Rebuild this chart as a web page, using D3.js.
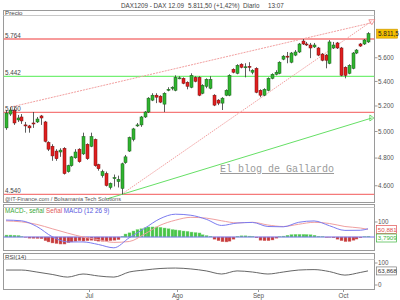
<!DOCTYPE html>
<html><head><meta charset="utf-8">
<script src="https://cdn.jsdelivr.net/npm/d3@7"></script>
<style>
body{margin:0;background:#fff}
svg{display:block}
text{font-family:"Liberation Sans",Arial,sans-serif}
text.mono{font-family:"Liberation Mono","DejaVu Sans Mono",monospace}
</style>
</head><body>
<svg id="c" width="400" height="300"></svg>
<script>
// ---------- DATA ----------
const title = ["DAX1209 - DAX 12.09", "5.811,50 (+1,42%)", "Diario", "13:07"];
const open  = [5028,5136,5168,5090,5113,5051,5043,5066,5074,5121,5074,4917,4888,4852,4845,4873,4701,4744,4802,4866,4831,4903,4888,4939,4751,4672,4687,4588,4652,4630,4581,4766,4852,4939,5043,5051,5113,5152,5247,5287,5279,5215,5327,5344,5327,5426,5426,5393,5352,5434,5434,5303,5360,5344,5287,5247,5223,5287,5287,5502,5468,5545,5519,5527,5477,5510,5327,5287,5327,5426,5460,5468,5588,5614,5562,5623,5650,5746,5720,5711,5694,5685,5632,5623,5553,5685,5729,5685,5519,5468,5510,5641,5720,5720,5738];
const high  = [5168,5190,5183,5129,5136,5074,5051,5152,5113,5129,5082,4925,4903,4866,4873,4881,4751,4816,4866,4873,4991,4910,4991,4946,4758,4715,4701,4623,4680,4672,4766,4823,4961,5028,5066,5121,5160,5271,5303,5303,5287,5311,5352,5360,5451,5443,5434,5401,5468,5443,5443,5377,5426,5443,5295,5255,5271,5335,5460,5510,5545,5553,5553,5562,5502,5519,5335,5344,5434,5468,5494,5570,5623,5650,5650,5667,5729,5764,5738,5729,5729,5694,5641,5632,5755,5738,5738,5694,5527,5545,5650,5676,5729,5764,5825];
const low   = [5013,5121,5051,5074,5059,4991,4991,5028,5066,5051,4917,4852,4780,4780,4809,4680,4694,4737,4795,4766,4823,4787,4881,4737,4708,4658,4595,4574,4595,4588,4540,4758,4845,4925,5036,5036,5105,5144,5239,5223,5223,5152,5319,5327,5319,5418,5377,5335,5344,5393,5279,5295,5344,5335,5199,5207,5168,5279,5279,5468,5460,5510,5434,5485,5460,5303,5271,5279,5319,5418,5451,5460,5579,5553,5553,5614,5641,5711,5702,5597,5685,5614,5570,5510,5545,5676,5676,5443,5426,5460,5502,5632,5694,5711,5729];
const close = [5144,5168,5066,5105,5082,5043,5028,5059,5097,5105,4925,4866,4816,4795,4859,4687,4744,4809,4845,4773,4961,4795,4961,4744,4722,4701,4602,4616,4658,4645,4758,4809,4954,5020,5051,5113,5152,5263,5287,5271,5231,5303,5335,5352,5434,5430,5385,5360,5451,5401,5287,5368,5418,5418,5207,5223,5263,5327,5451,5477,5536,5519,5523,5519,5494,5311,5287,5335,5426,5460,5477,5562,5614,5610,5641,5650,5720,5720,5716,5685,5711,5623,5579,5579,5738,5711,5685,5451,5451,5536,5641,5667,5702,5755,5811.5];
const lastLabel = "5.811,5";

const levels = [5764, 5442, 5150, 4540];
const levelLabels = ["5.764", "5.442", "5.150", "4.540"];
const priceTicks = [4600, 4800, 5000, 5200, 5400, 5600];
const priceTickLabels = ["4.600", "4.800", "5.000", "5.200", "5.400", "5.600"];

// trend lines: [candle index, price]
const resistanceLine = [[1, 5190], [95, 5910]];
const supportLine    = [[30, 4540], [95, 5925]];
const greenTrend     = [[26, 4506], [95, 5105]];

const months = ["Jul", "Ago", "Sep", "Oct"];
const monthIdx = [22, 45, 66, 88];

// indicators sampled at candle indices
const indIdx = [0,4,8,12,16,20,24,28,32,36,40,44,48,52,56,60,64,68,72,76,80,84,88,92,94];
const macd   = [113,108,70,2,-33,-33,-50,-72,-5,58,122,152,145,118,77,93,97,70,68,98,107,75,44,45,55];
const signal = [107,101,84,55,26,0,-18,-36,-30,20,78,112,131,126,108,94,98,80,70,85,98,90,70,60,51];
const hist = [13,13,12,10,3,-2,-8,-9,-10,-12,
  -25,-33,-40,-44,-47,-47,-38,-33,-28,-25,
  -27,-25,-22,-25,-28,-28,-27,-25,-22,-18,
  5,20,28,40,50,55,62,67,67,67,
  65,60,55,50,47,45,40,38,33,30,
  27,15,10,5,-15,-25,-32,-33,-28,-15,
  5,8,8,6,4,-5,-22,-25,-25,-20,
  -8,2,6,12,16,18,18,18,17,15,
  12,5,3,-3,-2,-5,-15,-25,-31,-30,
  -22,-14,-5,2,4];
const rsi = [68,68,59,48,36,50,41,36,59,68,75,77,73,64,50,64,59,50,59,68,70,61,45,57,64];
const macdLabels = ["100"];
const macdTags = ["50,881", "3,7909"];
const rsiTicks = [0, 100];
const rsiTag = "63,868";

// ---------- DRAW ----------
const svg = d3.select("#c");
const grey = "#9a9a9a", txt = "#555";
const L = 3.5, R = 374.5;

const x = d3.scaleLinear().domain([0, 94]).range([6, 368]);
const yP = d3.scaleLog().domain([4540, 5764]).range([194.3, 39]);
const yM = d3.scaleLinear().domain([-100, 100]).range([252, 222]);
const yR = d3.scaleLinear().domain([0, 100]).range([285, 263]);

// header
const hx = [121, 188, 243, 268];
title.forEach((t, k) => svg.append("text").attr("x", hx[k]).attr("y", 7.5)
  .attr("font-size", 6.3).attr("fill", "#444").text(t));

// panel frames
function panel(top, bottom, hdr) {
  svg.append("rect").attr("x", L).attr("y", top).attr("width", R - L).attr("height", bottom - top)
    .attr("fill", "#fff").attr("stroke", grey).attr("stroke-width", 1);
  svg.append("line").attr("x1", L).attr("x2", R).attr("y1", hdr).attr("y2", hdr)
    .attr("stroke", "#c8c8c8");
}
panel(10.5, 202.5, 15.5);
panel(204.5, 250.5, 207.5);
panel(253.5, 289.5, 259.5);

svg.append("text").attr("x", 5).attr("y", 14.5).attr("font-size", 6.2).attr("fill", "#444").text("Precio");

const defs = svg.append("defs");
defs.append("clipPath").attr("id", "cm").append("rect")
  .attr("x", L).attr("y", 15.5).attr("width", R - L).attr("height", 187);
const main = svg.append("g").attr("clip-path", "url(#cm)");

// level lines
const levelColor = ["#f57a7a", "#74f074", "#f57a7a", "#f57a7a"];
levels.forEach((lv, k) => {
  main.append("line").attr("x1", L).attr("x2", R).attr("y1", yP(lv)).attr("y2", yP(lv))
    .attr("stroke", levelColor[k]).attr("stroke-width", 1.3);
  svg.append("text").attr("x", 5).attr("y", yP(lv) - 1.2).attr("font-size", 6.3)
    .attr("fill", "#444").text(levelLabels[k]);
});

// trend lines
const tl = d3.line().x(d => x(d[0])).y(d => yP(d[1]));
main.append("path").attr("d", tl(resistanceLine)).attr("fill", "none")
  .attr("stroke", "#f2a0a0").attr("stroke-width", 1).attr("stroke-dasharray", "2,1");
main.append("path").attr("d", tl(supportLine)).attr("fill", "none")
  .attr("stroke", "#f2a0a0").attr("stroke-width", 1).attr("stroke-dasharray", "1.5,1");
main.append("path").attr("d", tl(greenTrend)).attr("fill", "none")
  .attr("stroke", "#66e066").attr("stroke-width", 1);
// end markers
{
  const ex = x(resistanceLine[1][0]), ey = yP(resistanceLine[1][1]);
  svg.append("path").attr("d", `M${ex-3},${ey-3}L${ex+3},${ey-3}L${ex},${ey+2}Z`)
    .attr("fill", "none").attr("stroke", "#f08080").attr("stroke-width", 0.8);
  const gx = x(greenTrend[1][0]), gy = yP(greenTrend[1][1]);
  svg.append("path").attr("d", `M${gx-2},${gy-3}L${gx+2},${gy}L${gx-2},${gy+3}Z`)
    .attr("fill", "none").attr("stroke", "#55d055").attr("stroke-width", 0.8);
}

// watermark
svg.append("text").attr("class", "mono").attr("x", 220).attr("y", 172)
  .attr("font-size", 10).attr("fill", "#9a9a9a").attr("text-decoration", "underline")
  .text("El blog de Gallardo");

// candles
const cg = main.append("g");
open.forEach((o, i) => {
  const c = close[i], up = c >= o;
  const cx = Math.round(x(i)) + 0.5;
  cg.append("line").attr("x1", cx).attr("x2", cx).attr("y1", yP(high[i])).attr("y2", yP(low[i]))
    .attr("stroke", "#333").attr("stroke-width", 0.8);
  const yt = yP(Math.max(o, c)), yb = yP(Math.min(o, c));
  cg.append("rect").attr("x", cx - 1.5).attr("y", yt).attr("width", 3).attr("height", Math.max(1, yb - yt))
    .attr("fill", up ? "#2fb52f" : "#e01e1e").attr("stroke", up ? "#1d5e1d" : "#7a1010").attr("stroke-width", 0.5);
});

svg.append("text").attr("x", 5).attr("y", 201).attr("font-size", 5.6).attr("fill", "#555")
  .text("@IT-Finance.com / Bolsamania Tech Solutions");

// price axis
priceTicks.forEach((p, k) => {
  svg.append("line").attr("x1", R).attr("x2", R + 3).attr("y1", yP(p)).attr("y2", yP(p)).attr("stroke", grey);
  svg.append("text").attr("x", 378).attr("y", yP(p) + 2.2).attr("font-size", 6.3).attr("fill", txt)
    .text(priceTickLabels[k]);
});
// last price tag
{
  const ty = yP(close[close.length - 1]);
  svg.append("rect").attr("x", 376.5).attr("y", ty - 4.5).attr("width", 21).attr("height", 9)
    .attr("fill", "#f5c000").attr("stroke", "#c89200").attr("stroke-width", 0.6);
  svg.append("text").attr("x", 378).attr("y", ty + 2.3).attr("font-size", 6.4).attr("fill", "#222").text(lastLabel);
}

// MACD panel
const hdr = svg.append("text").attr("x", 5).attr("y", 212.5).attr("font-size", 6.3);
hdr.append("tspan").attr("fill", "#3aa83a").text("MACD-, señal ");
hdr.append("tspan").attr("fill", "#e05a5a").text("Señal ");
hdr.append("tspan").attr("fill", "#5555dd").text("MACD (12 26 9)");

hist.forEach((h, i) => {
  const cx = Math.round(x(i)) + 0.5;
  const y0 = yM(0), y1 = yM(h);
  svg.append("rect").attr("x", cx - 1.5).attr("y", Math.min(y0, y1)).attr("width", 3)
    .attr("height", Math.abs(y1 - y0)).attr("fill", h >= 0 ? "#49c449" : "#c63a3a")
    .attr("stroke", h >= 0 ? "#8fe08f" : "#e08a8a").attr("stroke-width", 0.4);
});
svg.append("line").attr("x1", L).attr("x2", R).attr("y1", yM(0)).attr("y2", yM(0))
  .attr("stroke", "#7272ee").attr("stroke-width", 1);
const ml = d3.line().x((d, k) => x(indIdx[k])).y(d => yM(d)).curve(d3.curveMonotoneX);
svg.append("path").attr("d", ml(signal)).attr("fill", "none").attr("stroke", "#f0a0a0").attr("stroke-width", 1);
svg.append("path").attr("d", ml(macd)).attr("fill", "none").attr("stroke", "#7b7bf0").attr("stroke-width", 1);

svg.append("line").attr("x1", R).attr("x2", R + 3).attr("y1", yM(100)).attr("y2", yM(100)).attr("stroke", grey);
svg.append("text").attr("x", 378).attr("y", yM(100) + 2.2).attr("font-size", 6.3).attr("fill", txt).text(macdLabels[0]);
const tagCol = ["#e05050", "#3cb43c"];
const tagY = [yM(signal[signal.length - 1]), yM(0) + 1];
macdTags.forEach((t, k) => {
  svg.append("rect").attr("x", 376.5).attr("y", tagY[k] - 4).attr("width", 20).attr("height", 8)
    .attr("fill", "#fff").attr("stroke", tagCol[k]).attr("stroke-width", 0.7);
  svg.append("text").attr("x", 377.8).attr("y", tagY[k] + 2.2).attr("font-size", 6.2).attr("fill", tagCol[k]).text(t);
});

// RSI panel
svg.append("text").attr("x", 5).attr("y", 258.8).attr("font-size", 6.2).attr("fill", "#444").text("RSI(14)");
const rl = d3.line().x((d, k) => x(indIdx[k])).y(d => yR(d)).curve(d3.curveMonotoneX);
svg.append("path").attr("d", rl(rsi)).attr("fill", "none").attr("stroke", "#555").attr("stroke-width", 0.9);
rsiTicks.forEach(t => {
  svg.append("line").attr("x1", R).attr("x2", R + 3).attr("y1", yR(t)).attr("y2", yR(t)).attr("stroke", grey);
  svg.append("text").attr("x", 378).attr("y", yR(t) + 2.2).attr("font-size", 6.3).attr("fill", txt).text(t);
});
{
  const ty = yR(rsi[rsi.length - 1]);
  svg.append("rect").attr("x", 376.5).attr("y", ty - 4).attr("width", 20).attr("height", 8)
    .attr("fill", "#fff").attr("stroke", "#777").attr("stroke-width", 0.7);
  svg.append("text").attr("x", 377.8).attr("y", ty + 2.2).attr("font-size", 6.2).attr("fill", "#333").text(rsiTag);
}

// x axis months
months.forEach((m, k) => {
  const mx = Math.round(x(monthIdx[k]) - 2) + 0.5;
  svg.append("line").attr("x1", mx).attr("x2", mx).attr("y1", 289.5).attr("y2", 292).attr("stroke", grey);
  svg.append("text").attr("x", mx).attr("y", 298).attr("font-size", 6.3).attr("fill", txt)
    .attr("text-anchor", "middle").text(m);
});
</script>
</body></html>
